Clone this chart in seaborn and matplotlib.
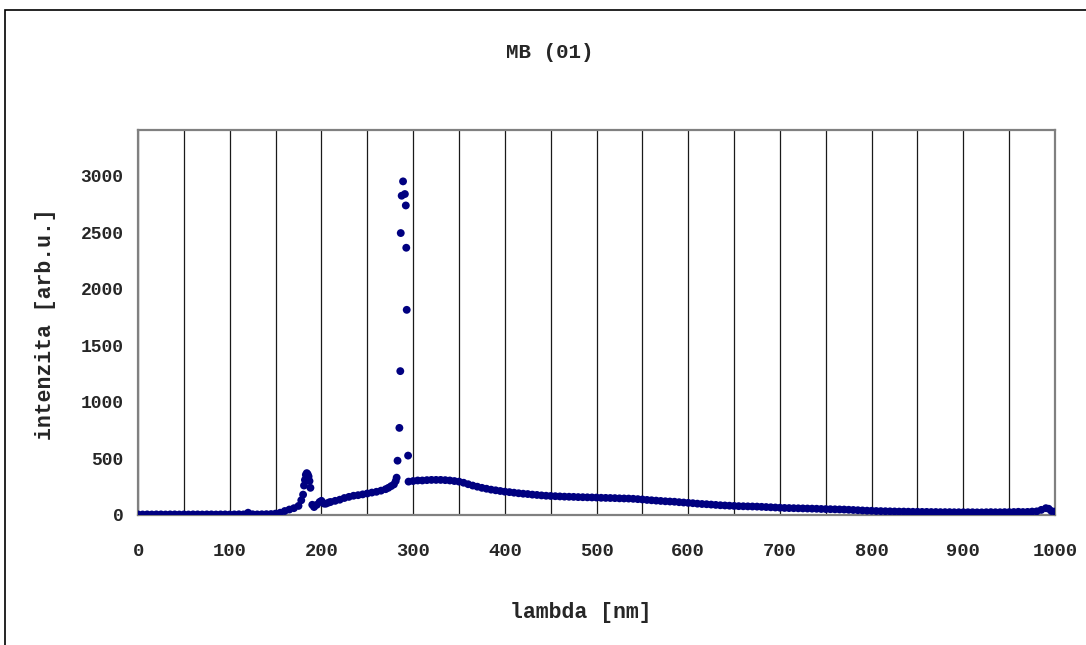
import numpy as np
import pandas as pd
import seaborn as sns
import matplotlib.pyplot as plt
from matplotlib.patches import Rectangle
from matplotlib.ticker import MultipleLocator

# values (lambda in nm, intensity in arb.u.)
lam_flat = [0, 5, 10, 15, 20, 25, 30, 35, 40, 45, 50, 55, 60, 65, 70, 75, 80, 85, 90, 95,
            100, 105, 110, 115, 120, 125, 130, 135, 140, 145]
int_flat = [5, 4, 5, 4, 5, 5, 4, 5, 5, 4, 5, 4, 5, 5, 4, 5, 5, 4, 5, 5,
            4, 5, 6, 5, 20, 6, 5, 6, 7, 8]

lam_rise = [150, 155, 160, 165, 170, 175, 178, 180, 181, 182, 183, 184, 185, 186, 187, 188,
            190, 192, 195, 198, 200, 203, 205, 208, 210, 215, 220, 225, 230, 235, 240, 245,
            250, 255, 260, 265, 270, 273, 276, 279, 281, 282]
int_rise = [12, 20, 35, 48, 60, 80, 130, 180, 260, 310, 355, 370, 360, 340, 300, 240,
            90, 70, 90, 115, 125, 100, 100, 110, 115, 125, 135, 150, 160, 170, 175, 182,
            190, 198, 205, 215, 228, 240, 255, 270, 300, 330]

lam_peak = [283, 285, 286, 286.5, 287.5, 289, 291, 292, 292.5, 293, 294.5]
int_peak = [480, 770, 1272, 2493, 2823, 2950, 2838, 2737, 2363, 1814, 525]

lam_tail = [295, 300, 305, 310, 315, 320, 325, 330, 335, 340, 345, 350, 355, 360, 365, 370,
            375, 380, 385, 390, 395, 400, 405, 410, 415, 420, 425, 430, 435, 440, 445, 450,
            455, 460, 465, 470, 475, 480, 485, 490, 495, 500, 505, 510, 515, 520, 525, 530,
            535, 540, 545, 550, 555, 560, 565, 570, 575, 580, 585, 590, 595, 600, 605, 610,
            615, 620, 625, 630, 635, 640, 645, 650, 655, 660, 665, 670, 675, 680, 685, 690,
            695, 700, 705, 710, 715, 720, 725, 730, 735, 740, 745, 750, 755, 760, 765, 770,
            775, 780, 785, 790, 795, 800, 805, 810, 815, 820, 825, 830, 835, 840, 845, 850,
            855, 860, 865, 870, 875, 880, 885, 890, 895, 900, 905, 910, 915, 920, 925, 930,
            935, 940, 945, 950, 955, 960, 965, 970, 975, 980, 985, 990, 993, 996, 1000]
int_tail = [295, 300, 305, 305, 308, 310, 310, 310, 308, 305, 300, 295, 285, 272, 260, 250,
            240, 232, 224, 218, 212, 206, 202, 197, 192, 188, 185, 180, 177, 173, 170, 168,
            166, 164, 162, 161, 160, 158, 157, 156, 155, 154, 152, 151, 150, 149, 147, 146,
            145, 143, 140, 137, 133, 130, 127, 124, 121, 119, 117, 113, 110, 107, 104, 100,
            97, 95, 92, 89, 86, 84, 82, 80, 78, 77, 76, 75, 74, 72, 70, 68,
            66, 64, 62, 61, 60, 59, 58, 57, 56, 55, 53, 52, 51, 50, 49, 48,
            46, 44, 42, 40, 38, 37, 35, 34, 33, 32, 31, 30, 30, 29, 28, 28,
            27, 27, 26, 26, 25, 25, 25, 24, 24, 24, 24, 24, 23, 23, 24, 25,
            24, 24, 25, 25, 26, 28, 26, 27, 30, 32, 45, 60, 55, 35, 30]

df = pd.DataFrame({
    'lambda': lam_flat + lam_rise + lam_peak + lam_tail,
    'intenzita': int_flat + int_rise + int_peak + int_tail,
})

sns.set_style('white')
plt.rcParams['font.family'] = ['Liberation Mono', 'DejaVu Sans']
plt.rcParams['font.weight'] = 'bold'

fig = plt.figure(figsize=(10.86, 6.45), dpi=100)
ax = fig.add_axes([0.1271, 0.2016, 0.8444, 0.5961])

sns.scatterplot(data=df, x='lambda', y='intenzita', ax=ax, color='#000080',
                s=32, edgecolor='none', linewidth=0, zorder=3)

ax.set_xlim(0, 1000)
ax.set_ylim(0, 3400)
ax.xaxis.set_major_locator(MultipleLocator(100))
ax.xaxis.set_minor_locator(MultipleLocator(50))
ax.yaxis.set_major_locator(MultipleLocator(500))
ax.grid(which='both', axis='x', color='#1a1a1a', linewidth=0.9)
ax.grid(False, axis='y')
ax.set_axisbelow(True)

ax.tick_params(axis='x', which='major', direction='out', length=6, width=1.2,
               color='#666666', pad=14, labelsize=13.5)
ax.tick_params(axis='x', which='minor', length=0)
ax.tick_params(axis='y', direction='out', length=4.5, width=1.2,
               color='#666666', pad=6, labelsize=13)
for lab in ax.get_xticklabels() + ax.get_yticklabels():
    lab.set_fontweight('bold')

for side in ['top', 'right', 'left', 'bottom']:
    ax.spines[side].set_visible(True)
    ax.spines[side].set_color('#808080')
    ax.spines[side].set_linewidth(1.6)

ax.set_xlabel('')
ax.set_ylabel('')
fig.text(0.506, 0.919, 'MB (01)', ha='center', va='center', fontsize=15, fontweight='bold')
fig.text(0.535, 0.051, 'lambda [nm]', ha='center', va='center', fontsize=15.5, fontweight='bold')
fig.text(0.042, 0.497, 'intenzita [arb.u.]', ha='center', va='center', rotation=90,
         fontsize=15.5, fontweight='bold')

# chart area frame (cut by the picture edge on the right and bottom)
fig.patches.append(Rectangle((5 / 1086, -0.1), 2, 1.1 - 10 / 645, transform=fig.transFigure,
                             fill=False, edgecolor='black', linewidth=1.2))

fig.savefig('out.png', dpi=100)
